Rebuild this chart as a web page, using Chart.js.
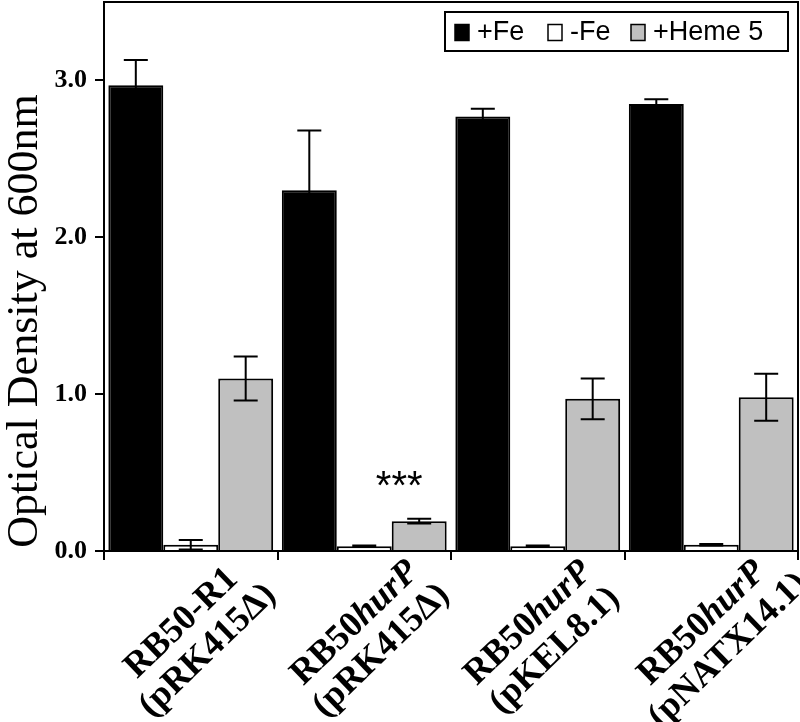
<!DOCTYPE html>
<html>
<head>
<meta charset="utf-8">
<script src="https://cdn.jsdelivr.net/npm/chart.js@4"></script>
<style>
  html, body { margin: 0; padding: 0; background: #fff; }
  #wrap { width: 800px; height: 722px; }
</style>
</head>
<body>
<div id="wrap"><canvas id="chart" width="800" height="722"></canvas></div>
<script>
// ================= DATA =================
const strains = ["RB50-R1", "RB50hurP", "RB50hurP", "RB50hurP"];
const plasmids = ["(pRK415\u0394)", "(pRK415\u0394)", "(pKEL8.1)", "(pNATX14.1)"];
const seriesNames = ["+Fe", "-Fe", "+Heme 5"];
const plusFe = [2.97, 2.30, 2.77, 2.85];
const plusFeErr = [0.16, 0.38, 0.05, 0.03];
const minusFe = [0.04, 0.03, 0.03, 0.04];
const minusFeErr = [0.03, 0.005, 0.005, 0.005];
const heme = [1.10, 0.19, 0.97, 0.98];
const hemeErr = [0.14, 0.015, 0.13, 0.15];
const yTicks = [0, 1, 2, 3];
const star = { index: 1, text: "***" };

const colors = ["#000000", "#ffffff", "#c0c0c0"];
const serif = "'Liberation Serif', 'Times New Roman', serif";
const sans = "'Liberation Sans', Arial, sans-serif";

// ================= PLUGINS =================
const frame = {
  id: "frame",
  afterDraw(chart) {
    const { ctx, chartArea: a } = chart;
    ctx.save();
    ctx.strokeStyle = "#000";
    ctx.lineWidth = 2;
    ctx.beginPath();
    ctx.moveTo(a.left, a.top);
    ctx.lineTo(a.right, a.top);
    ctx.lineTo(a.right, a.bottom);
    ctx.stroke();
    // y axis title
    ctx.save();
    ctx.translate(25, 321);
    ctx.rotate(-Math.PI / 2);
    ctx.font = "44px " + serif;
    ctx.fillStyle = "#000";
    ctx.textAlign = "center";
    ctx.textBaseline = "middle";
    ctx.fillText("Optical Density at 600nm", 0, 0);
    ctx.restore();
    ctx.restore();
  }
};

const errorBars = {
  id: "errorBars",
  afterDatasetsDraw(chart) {
    const { ctx } = chart;
    const y = chart.scales.y;
    const errs = [plusFeErr, minusFeErr, hemeErr];
    ctx.save();
    ctx.strokeStyle = "#000";
    ctx.lineWidth = 2;
    chart.data.datasets.forEach((ds, d) => {
      chart.getDatasetMeta(d).data.forEach((bar, i) => {
        const v = ds.data[i], e = errs[d][i];
        const yt = y.getPixelForValue(v + e);
        const yb = y.getPixelForValue(Math.max(0, v - e));
        const cap = 12;
        ctx.beginPath();
        ctx.moveTo(bar.x, yt); ctx.lineTo(bar.x, yb);
        ctx.moveTo(bar.x - cap, yt); ctx.lineTo(bar.x + cap, yt);
        ctx.moveTo(bar.x - cap, yb); ctx.lineTo(bar.x + cap, yb);
        ctx.stroke();
      });
    });
    // significance mark
    const b = chart.getDatasetMeta(2).data[star.index];
    ctx.fillStyle = "#000";
    ctx.font = "40px " + sans;
    ctx.textAlign = "center";
    ctx.textBaseline = "alphabetic";
    ctx.fillText(star.text, b.x - 20, y.getPixelForValue(heme[star.index] + hemeErr[star.index]) - 20);
    ctx.restore();
  }
};

const xLabels = {
  id: "xLabels",
  afterDraw(chart) {
    const { ctx } = chart;
    const x = chart.scales.x;
    const size = 36;
    ctx.save();
    ctx.fillStyle = "#000";
    strains.forEach((s, i) => {
      const cx = x.getPixelForValue(i);
      ctx.save();
      ctx.translate(cx + 4, chart.chartArea.bottom + 86);
      ctx.rotate(-44 * Math.PI / 180);
      ctx.textBaseline = "middle";
      // line 1: strain, italic part for hurP
      const parts = s.indexOf("hurP") > 0 ? [["RB50", "bold "], ["hurP", "italic bold "]] : [[s, "bold "]];
      let w = 0;
      parts.forEach(p => { ctx.font = p[1] + size + "px " + serif; w += ctx.measureText(p[0]).width; });
      let px = -w / 2;
      ctx.textAlign = "left";
      parts.forEach(p => {
        ctx.font = p[1] + size + "px " + serif;
        ctx.fillText(p[0], px, -19);
        px += ctx.measureText(p[0]).width;
      });
      ctx.font = "bold " + size + "px " + serif;
      ctx.textAlign = "center";
      ctx.fillText(plasmids[i], 0, 19);
      ctx.restore();
    });
    ctx.restore();
  }
};

const legendBox = {
  id: "legendBox",
  afterDraw(chart) {
    const { ctx } = chart;
    const bx = 445, by = 12, bw = 343, bh = 39;
    const boxX = [455, 548, 631];
    ctx.save();
    ctx.fillStyle = "#fff";
    ctx.fillRect(bx, by, bw, bh);
    ctx.strokeStyle = "#000";
    ctx.lineWidth = 2;
    ctx.strokeRect(bx, by, bw, bh);
    ctx.font = "27px " + sans;
    ctx.textBaseline = "middle";
    ctx.textAlign = "left";
    const cy = by + bh / 2 + 1;
    seriesNames.forEach((n, i) => {
      ctx.fillStyle = colors[i];
      ctx.fillRect(boxX[i], cy - 8, 14, 16);
      ctx.lineWidth = 1.5;
      ctx.strokeRect(boxX[i], cy - 8, 14, 16);
      ctx.fillStyle = "#000";
      ctx.fillText(n, boxX[i] + 22, cy);
    });
    ctx.restore();
  }
};

// ================= CHART =================
new Chart(document.getElementById("chart"), {
  type: "bar",
  data: {
    labels: strains.map((s, i) => s + " " + plasmids[i]),
    datasets: [
      { label: seriesNames[0], data: plusFe, backgroundColor: colors[0], borderColor: "#000", borderWidth: 2 },
      { label: seriesNames[1], data: minusFe, backgroundColor: colors[1], borderColor: "#000", borderWidth: 2 },
      { label: seriesNames[2], data: heme, backgroundColor: colors[2], borderColor: "#000", borderWidth: 2 }
    ]
  },
  options: {
    responsive: false,
    animation: false,
    layout: { padding: { left: 0, right: 2, top: 2, bottom: 0 } },
    plugins: { legend: { display: false }, tooltip: { enabled: false } },
    datasets: { bar: { categoryPercentage: 0.95, barPercentage: 1.0 } },
    scales: {
      x: {
        grid: { drawOnChartArea: false, tickLength: 9, color: "#000", lineWidth: 2, offset: true },
        border: { color: "#000", width: 2 },
        ticks: { callback: () => "" },
        afterFit(s) { s.height = 722 - 551; s.paddingLeft = 0; s.paddingRight = 0; }
      },
      y: {
        min: 0,
        max: 3.5,
        afterBuildTicks(s) { s.ticks = yTicks.map(v => ({ value: v })); },
        grid: { drawOnChartArea: false, tickLength: 9, color: "#000", lineWidth: 2 },
        border: { color: "#000", width: 2 },
        ticks: {
          color: "#000",
          padding: 8,
          font: { family: serif, size: 26, weight: "bold" },
          callback: v => v.toFixed(1)
        },
        afterFit(s) { s.width = 104; s.paddingTop = 0; s.paddingBottom = 0; }
      }
    }
  },
  plugins: [frame, errorBars, xLabels, legendBox]
});
</script>
</body>
</html>
